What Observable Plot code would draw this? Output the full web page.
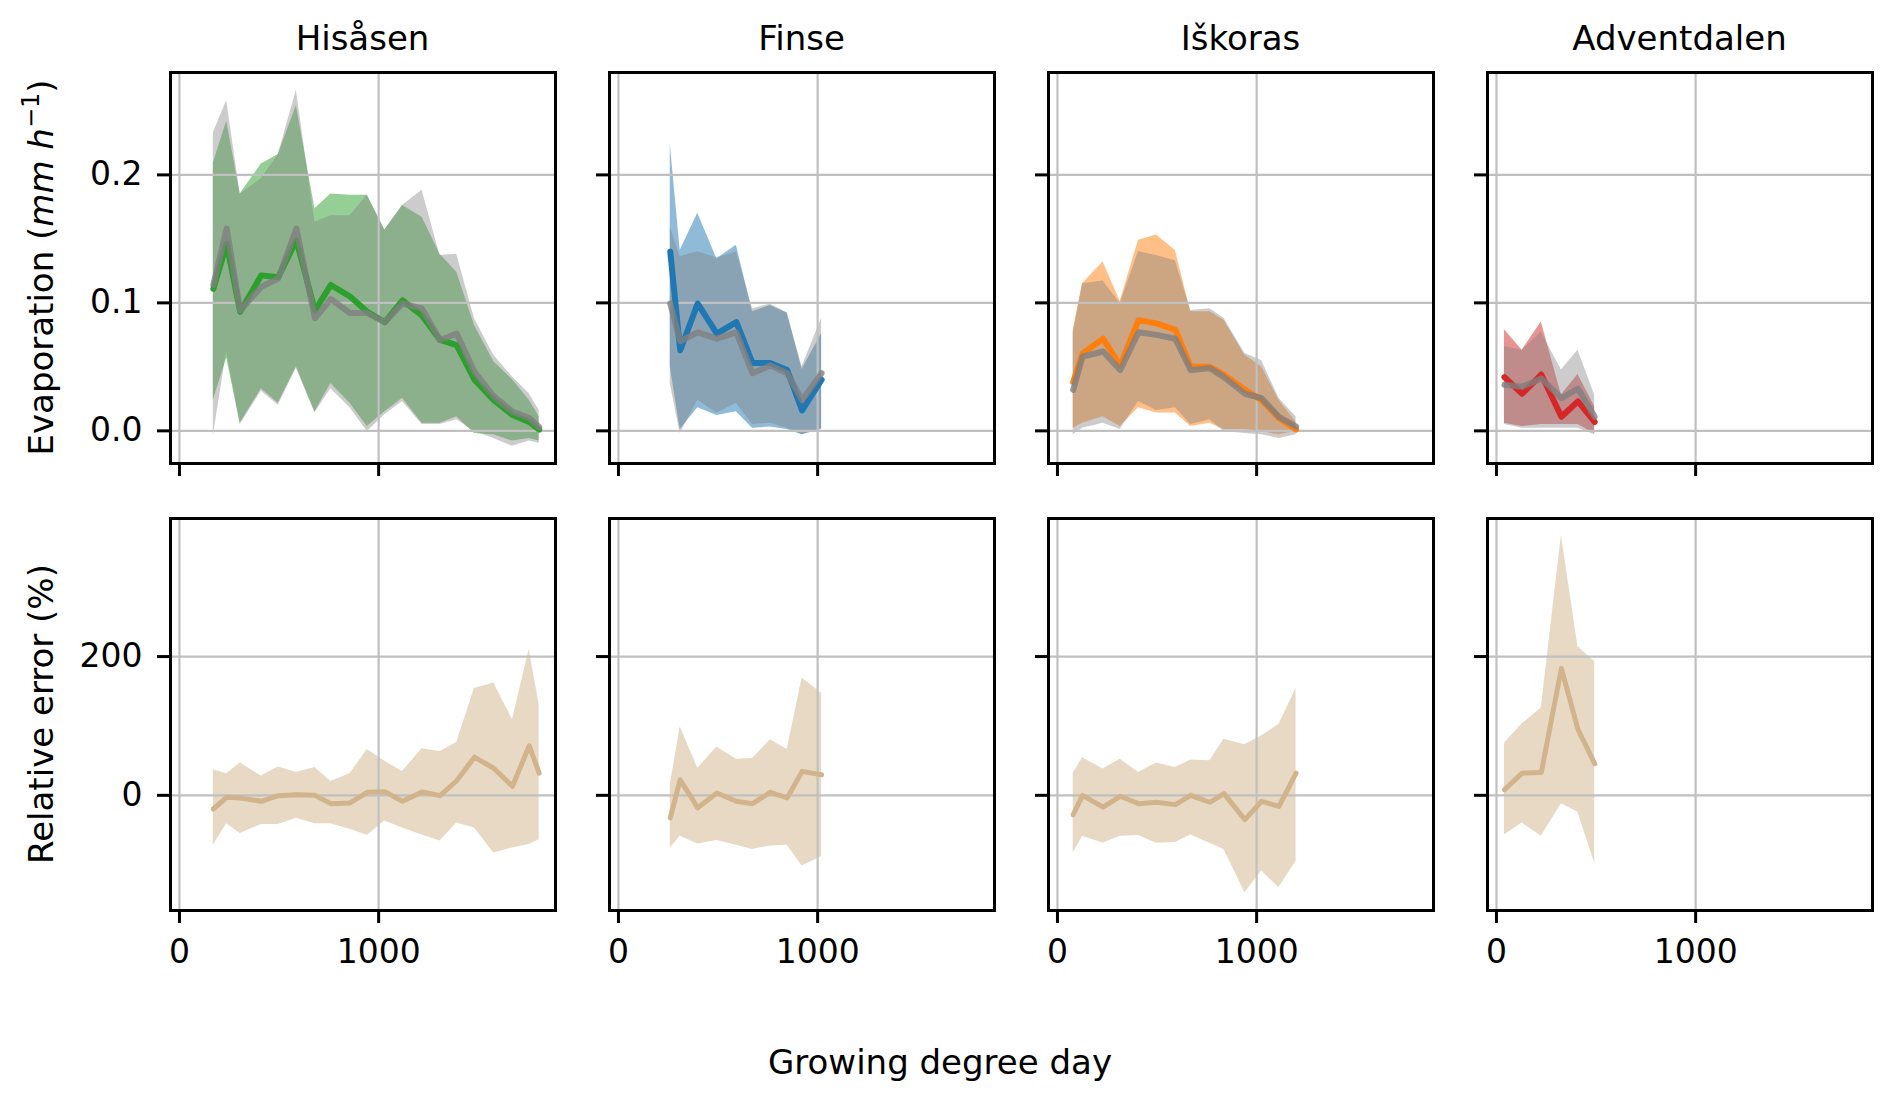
<!DOCTYPE html>
<html><head><meta charset="utf-8">
<script src="https://cdn.jsdelivr.net/npm/d3@7"></script>
<script src="https://cdn.jsdelivr.net/npm/@observablehq/plot@0.6"></script>
<style>
body{margin:0;background:#fff;}
#fig{position:relative;width:1892px;height:1101px;font-family:"DejaVu Sans",sans-serif;color:#000;overflow:hidden;}
.pan{position:absolute;}
.pan svg{max-width:none;}
#txt{position:absolute;left:0;top:0;}
</style></head><body><div id="fig"></div>
<script>
// ---------- data ----------
const sites = ["Hisåsen", "Finse", "Iškoras", "Adventdalen"];
const siteColors = ["#2ca02c", "#1f77b4", "#ff7f0e", "#d62728"];

// Hisåsen
const hisGdd   = [170, 237, 305, 411, 496, 587, 680, 760, 856, 943, 1031, 1120, 1218, 1308, 1392, 1481, 1578, 1672, 1756, 1806];
const hisEvap  = [0.111, 0.146, 0.093, 0.1215, 0.120, 0.149, 0.094, 0.114, 0.105, 0.093, 0.085, 0.102, 0.090, 0.071, 0.067, 0.040, 0.024, 0.0125, 0.007, 0.001];
const hisEvapLo= [0.024, 0.057, 0.006, 0.033, 0.0216, 0.050, 0.015, 0.037, 0.0216, 0.0034, 0.015, 0.0255, 0.006, 0.006, 0.011, -0.002, -0.003, -0.008, -0.006, -0.008];
const hisEvapHi= [0.209, 0.242, 0.185, 0.2086, 0.216, 0.254, 0.1735, 0.185, 0.184, 0.184, 0.157, 0.176, 0.167, 0.138, 0.124, 0.0826, 0.054, 0.040, 0.024, 0.011];
const hisRef   = [0.114, 0.158, 0.094, 0.1125, 0.119, 0.158, 0.088, 0.103, 0.092, 0.092, 0.085, 0.0995, 0.0955, 0.071, 0.076, 0.046, 0.027, 0.015, 0.010, 0.003];
const hisRefLo = [-0.004, 0.062, 0.005, 0.031, 0.020, 0.049, 0.014, 0.033, 0.018, -0.0005, 0.0125, 0.023, 0.005, 0.005, 0.0086, -0.0005, -0.006, -0.012, -0.008, -0.0096];
const hisRefHi = [0.233, 0.258, 0.185, 0.197, 0.216, 0.266, 0.163, 0.168, 0.168, 0.184, 0.157, 0.176, 0.188, 0.137, 0.138, 0.0878, 0.059, 0.042, 0.029, 0.016];
const hisErr   = [-19.7, -2.9, -3.8, -8.6, -0.5, 1, 0, -12, -11, 4.3, 5.3, -8.6, 4.8, -0.5, 21, 55, 39, 13, 71.5, 32];
const hisErrLo = [-72, -41, -55, -42, -42, -33, -41, -41, -49, -58, -37, -47, -57, -66, -40, -47, -83, -76, -71, -64];
const hisErrHi = [37, 31, 46.5, 28, 41, 33, 40, 20, 31, 66, 49, 34.5, 67, 63, 76, 154, 162, 109, 210.5, 130];

// Finse
const finGdd   = [260, 310, 398, 494, 592, 673, 762, 847, 922, 1020];
const finEvap  = [0.140, 0.063, 0.0995, 0.076, 0.085, 0.053, 0.053, 0.0475, 0.016, 0.040];
const finEvapLo= [0.050, 0.001, 0.018, 0.012, 0.015, 0.002, 0.003, 0.001, -0.003, 0.001];
const finEvapHi= [0.224, 0.141, 0.170, 0.1345, 0.145, 0.093, 0.098, 0.092, 0.048, 0.076];
const finRef   = [0.0995, 0.070, 0.077, 0.072, 0.077, 0.045, 0.051, 0.045, 0.024, 0.045];
const finRefLo = [0.037, -0.002, 0.024, 0.014, 0.0215, 0.005, 0.006, 0.002, -0.003, 0.002];
const finRefHi = [0.159, 0.136, 0.140, 0.135, 0.140, 0.0955, 0.099, 0.092, 0.050, 0.088];
const finErr   = [-32.6, 22.5, -18, 3.4, -8.6, -12, 4.3, -3.8, 34.5, 29.7];
const finErrLo = [-76, -59, -70, -65, -72, -78, -73, -72, -102, -88];
const finErrHi = [15, 99, 39, 69.5, 52, 53, 80, 66, 169, 147];

// Iškoras
const iskGdd   = [79, 126, 229, 315, 407, 497, 592, 669, 765, 836, 941, 1025, 1112, 1198];
const iskEvap  = [0.038, 0.0605, 0.072, 0.051, 0.0865, 0.084, 0.079, 0.050, 0.050, 0.044, 0.032, 0.024, 0.010, 0.001];
const iskEvapLo= [0.002, 0.006, 0.011, 0.0034, 0.018, 0.014, 0.014, 0.0034, 0.006, 0.001, 0.001, -0.0005, -0.003, -0.0005];
const iskEvapHi= [0.079, 0.115, 0.132, 0.101, 0.149, 0.153, 0.141, 0.093, 0.093, 0.0865, 0.059, 0.050, 0.024, 0.007];
const iskRef   = [0.032, 0.058, 0.062, 0.0475, 0.077, 0.075, 0.072, 0.0475, 0.049, 0.042, 0.029, 0.0255, 0.011, 0.0034];
const iskRefLo = [-0.003, 0.002, 0.006, 0.001, 0.023, 0.016, 0.018, 0.005, 0.0086, -0.0005, -0.002, -0.003, -0.006, -0.003];
const iskRefHi = [0.076, 0.115, 0.117, 0.0995, 0.140, 0.137, 0.133, 0.094, 0.0955, 0.088, 0.0605, 0.055, 0.0255, 0.011];
const iskErr   = [-28, 0, -17, -1.4, -12, -10, -13.4, 0, -10, 2.4, -35, -8.6, -16, 32];
const iskErrLo = [-83, -59, -69, -59, -58, -69, -68, -57, -69, -78, -140.5, -109, -133, -95];
const iskErrHi = [32, 54, 38, 52, 33, 46.5, 40, 51, 50, 81, 73, 86, 102, 154];

// Adventdalen
const advGdd   = [40, 129, 225, 326, 409, 493];
const advEvap  = [0.042, 0.029, 0.044, 0.011, 0.023, 0.007];
const advEvapLo= [0.006, 0.0034, 0.005, 0.005, 0.005, -0.002];
const advEvapHi= [0.079, 0.063, 0.085, 0.028, 0.044, 0.019];
const advRef   = [0.036, 0.0345, 0.041, 0.0255, 0.033, 0.011];
const advRefLo = [0.005, 0.002, 0.002, 0.002, 0.002, -0.003];
const advRefHi = [0.066, 0.063, 0.077, 0.0475, 0.063, 0.028];
const advErr   = [8, 32, 33, 183, 95, 45.6];
const advErrLo = [-57, -40, -59, -12, -24.5, -98];
const advErrHi = [75, 103, 126, 375, 214, 193];

const xTicks = [0, 1000];
const xTickLabels = ["0", "1000"];
const evapTicks = [0, 0.1, 0.2];
const evapTickLabels = ["0.0", "0.1", "0.2"];
const errTicks = [0, 200];
const errTickLabels = ["0", "200"];
const xDomain = [-45, 1888];
const evapDomain = [-0.0255, 0.28];
const errDomain = [-166, 399];

const xLabel = "Growing degree day";

// ---------- build ----------
const siteData = [
  [hisGdd, hisEvap, hisEvapLo, hisEvapHi, hisRef, hisRefLo, hisRefHi, hisErr, hisErrLo, hisErrHi],
  [finGdd, finEvap, finEvapLo, finEvapHi, finRef, finRefLo, finRefHi, finErr, finErrLo, finErrHi],
  [iskGdd, iskEvap, iskEvapLo, iskEvapHi, iskRef, iskRefLo, iskRefHi, iskErr, iskErrLo, iskErrHi],
  [advGdd, advEvap, advEvapLo, advEvapHi, advRef, advRefLo, advRefHi, advErr, advErrLo, advErrHi]
];

const fig = document.getElementById("fig");
const colLeft = [170, 609, 1048, 1487];
const frameW = 385;
const rowTop = [72, 518];
const rowH = [391, 392];
const ML = 100, MR = 12, MT = 12, MB = 80;
const GRID = "#c0c0c0";

function rows(xs, y, lo, hi) {
  return xs.map((x, i) => ({x, y: y[i], lo: lo[i], hi: hi[i]}));
}

function panel(col, row) {
  const [gdd, ev, evLo, evHi, rf, rfLo, rfHi, er, erLo, erHi] = siteData[col];
  const top = row === 0;
  const marks = [];
  if (top) {
    const a = rows(gdd, ev, evLo, evHi);
    const b = rows(gdd, rf, rfLo, rfHi);
    marks.push(Plot.areaY(a, {x: "x", y1: "lo", y2: "hi", fill: siteColors[col], fillOpacity: 0.5}));
    marks.push(Plot.areaY(b, {x: "x", y1: "lo", y2: "hi", fill: "#808080", fillOpacity: 0.4}));
  } else {
    const c = rows(gdd, er, erLo, erHi);
    marks.push(Plot.areaY(c, {x: "x", y1: "lo", y2: "hi", fill: "#d2b48c", fillOpacity: 0.5}));
  }
  const yT = top ? evapTicks : errTicks;
  const yL = top ? evapTickLabels : errTickLabels;
  marks.push(Plot.gridX({ticks: xTicks, stroke: GRID, strokeOpacity: 1, strokeWidth: 2.2}));
  marks.push(Plot.gridY({ticks: yT, stroke: GRID, strokeOpacity: 1, strokeWidth: 2.2}));
  if (top) {
    marks.push(Plot.lineY(rows(gdd, ev, evLo, evHi), {x: "x", y: "y", stroke: siteColors[col], strokeWidth: 6}));
    marks.push(Plot.lineY(rows(gdd, rf, rfLo, rfHi), {x: "x", y: "y", stroke: "#808080", strokeOpacity: 0.8, strokeWidth: 6}));
  } else {
    marks.push(Plot.lineY(rows(gdd, er, erLo, erHi), {x: "x", y: "y", stroke: "#d2b48c", strokeWidth: 5}));
  }
  marks.push(Plot.axisY({
    ticks: yT, tickSize: 13, tickPadding: 15, strokeWidth: 3, label: null, fontSize: 33,
    tickFormat: col === 0 ? (d => yL[yT.indexOf(d)]) : (() => "")
  }));
  marks.push(Plot.axisX({
    ticks: xTicks, tickSize: 13, tickPadding: 16, strokeWidth: 3, label: null, fontSize: 33,
    tickFormat: top ? (() => "") : (d => xTickLabels[xTicks.indexOf(d)])
  }));
  marks.push(Plot.frame({stroke: "black", strokeWidth: 3}));
  const h = rowH[row];
  const svg = Plot.plot({
    width: frameW + ML + MR,
    height: h + MT + MB,
    marginLeft: ML, marginRight: MR, marginTop: MT, marginBottom: MB,
    x: {domain: xDomain},
    y: {domain: top ? evapDomain : errDomain},
    style: {background: "transparent", overflow: "visible", fontFamily: "DejaVu Sans", fontSize: "33px", color: "black"},
    marks
  });
  const div = document.createElement("div");
  div.className = "pan";
  div.style.left = (colLeft[col] - ML) + "px";
  div.style.top = (rowTop[row] - MT) + "px";
  div.style.width = (frameW + ML + MR) + "px";
  div.appendChild(svg);
  fig.appendChild(div);
}

for (let r = 0; r < 2; r++) for (let c = 0; c < 4; c++) panel(c, r);

// ---------- text: titles and axis labels ----------
const NS = "http://www.w3.org/2000/svg";
const t = document.createElementNS(NS, "svg");
t.setAttribute("id", "txt");
t.setAttribute("width", 1892);
t.setAttribute("height", 1101);
t.style.fontFamily = "DejaVu Sans";
t.style.pointerEvents = "none";
fig.appendChild(t);

function txt(x, y, str, opts = {}) {
  const e = document.createElementNS(NS, "text");
  e.setAttribute("x", x); e.setAttribute("y", y);
  e.setAttribute("text-anchor", opts.anchor || "middle");
  e.setAttribute("font-size", opts.size || 34);
  if (opts.rotate) e.setAttribute("transform", `rotate(-90 ${x} ${y})`);
  if (opts.html) e.innerHTML = str; else e.textContent = str;
  t.appendChild(e);
  return e;
}
sites.forEach((s, i) => txt(colLeft[i] + frameW / 2, 50, s));
txt(53, (rowTop[0] + rowTop[0] + rowH[0]) / 2,
  'Evaporation (<tspan font-style="italic">mm h</tspan><tspan font-size="24" dy="-14">−1</tspan><tspan dy="14">)</tspan>',
  {rotate: true, html: true});
txt(53, (rowTop[1] + rowTop[1] + rowH[1]) / 2, "Relative error (%)", {rotate: true});
txt(940, 1074, xLabel);
</script></body></html>
